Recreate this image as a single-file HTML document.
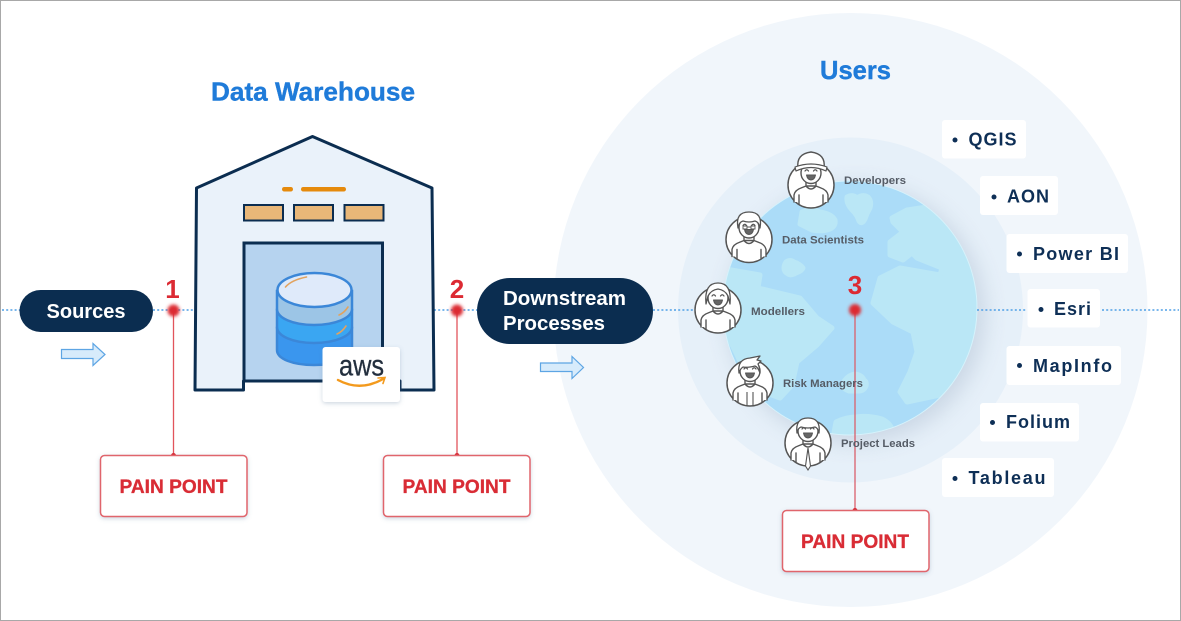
<!DOCTYPE html>
<html><head><meta charset="utf-8">
<style>
html,body{margin:0;padding:0;background:#fff;width:1181px;height:621px;overflow:hidden}
svg{display:block;filter:blur(.35px)}
text{font-family:"Liberation Sans",sans-serif}
</style></head>
<body>
<svg width="1181" height="621" viewBox="0 0 1181 621" xmlns="http://www.w3.org/2000/svg">
<defs>
<filter id="gs" x="-30%" y="-30%" width="160%" height="160%"><feGaussianBlur stdDeviation="11"/></filter>
<filter id="b1" x="-100%" y="-100%" width="300%" height="300%"><feGaussianBlur stdDeviation="1.6"/></filter>
<filter id="sh" x="-20%" y="-20%" width="140%" height="150%"><feDropShadow dx="0" dy="1.5" stdDeviation="2" flood-color="#5a7a9a" flood-opacity=".3"/></filter>
<clipPath id="gc"><circle cx="850" cy="308" r="127"/></clipPath>
<symbol id="p" viewBox="-25 -25 50 50" overflow="visible">
<circle cx="0" cy="0" r="23" fill="#fff" stroke="#555" stroke-width="1.500"/>
<g fill="none" stroke="#555" stroke-width="1.400" stroke-linecap="round" stroke-linejoin="round">
<path d="M-17 17v-7q1-5 7-7l5-2h10l5 2q6 2 7 7v7" fill="#fff"/>
<path d="M-5 1q5 6 10 0"/>
<path d="M-12 10v9M12 10v9"/>
<path d="M-5 0v-4M5 0v-4"/>
<ellipse cx="0" cy="-12" rx="10" ry="10.500" fill="#fff"/>
<path d="M-6-14q1.800-2.500 3.500 0M2.500-14q1.800-2.500 3.500 0" stroke-width="1.200"/>
<path d="M-4.500-10h9q-1 5-4.500 5t-4.500-5z" fill="#666" stroke-width="1"/>
</g>
</symbol>
</defs>

<rect width="1181" height="621" fill="#fff"/>
<circle cx="850.500" cy="310" r="297" fill="#f1f6fb"/>
<circle cx="850.500" cy="310" r="172.500" fill="#e6f0f9"/>
<circle cx="856" cy="314" r="129" fill="#a9b8cc" opacity=".45" filter="url(#gs)"/>

<circle cx="850" cy="308" r="127" fill="#abdcf8"/>
<g clip-path="url(#gc)" fill="#bae7f6" stroke="#bae7f6" stroke-width="5" stroke-linejoin="round">
<path d="M847 197q6-3 10 1q6-4 11-1q4 4 2 11q-3 5-5 11q-3 6-6 2q-2-6-6-10q-7-7-6-14z"/>
<path d="M892 218L907 210L927 207L950 210L980 255L985 308L970 370L940 395L907 402L900 392L910 372L917 352L913 332L893 322L873 303L880 278L900 268L940 275L942 268L917 258L912 253L903 260L890 255L890 242L903 232L893 222Z"/>
<path d="M720 268L760 275L758 288L800 298L817 318L832 328L817 345L797 362L792 385L780 398L753 388L720 320Z"/>
<path d="M786 262q4-3 8 0q6 2 9 6q-1 3-7 5q-5 3-8 1q-4-2-4-6q0-3 2-6z"/>
<path d="M802 212q10-4 18 0q12 2 15 8q1 6-5 9q-8 3-18 1l-12-6z"/>
<path d="M845 380q4-5 10-6q7 1 9 6q3 2 2 6q-2 5-7 5h-10q-6-2-6-6q0-3 2-5z"/>
<path d="M836 422q10-5 20-5q12-2 26 2q8 4 10 10l-10 14h-50z"/>
</g>
<circle cx="850" cy="308" r="127" fill="none" stroke="#d6f2fb" stroke-width="1"/>

<g stroke="#4f9fe6" stroke-width="1.500" stroke-dasharray="2 2.200" fill="none">
<path d="M2 310H20M153 310H194M434 310H477M653 310H695M977 310H1027M1102 310H1179"/>
</g>

<!-- warehouse -->
<path d="M196.500 188L312.500 136.500L432 188L434 390H400V381H243.500V390H195Z" fill="#eaf2fa" stroke="#0b2d50" stroke-width="3" stroke-linejoin="round"/>
<rect x="244" y="243" width="138.500" height="138" fill="#b6d3ef" stroke="#0b2d50" stroke-width="3"/>
<rect x="282" y="187" width="11" height="4.500" rx="2.200" fill="#e58a0c"/>
<rect x="301" y="187" width="45" height="4.500" rx="2.200" fill="#e58a0c"/>
<g fill="#e9b778" stroke="#0b2d50" stroke-width="2">
<rect x="244" y="205" width="39" height="15.500"/>
<rect x="294" y="205" width="39" height="15.500"/>
<rect x="344.500" y="205" width="39" height="15.500"/>
</g>
<!-- database -->
<g stroke="#3b87d8" stroke-width="2.500">
<path d="M277 328V350C277 359 293 365 314 365S352 359 352 350V328Z" fill="#3a96ee"/>
<path d="M277 310V327C277 336 293 343 314 343S352 336 352 327V310Z" fill="#3aa6f2"/>
<path d="M277 291V309C277 318 293 325 314 325S352 318 352 309V291Z" fill="#9cc5e6"/>
<ellipse cx="314.500" cy="290" rx="37" ry="17" fill="#dfeafa"/>
</g>
<g stroke="#e2a35f" stroke-width="1.600" fill="none" stroke-linecap="round">
<path d="M285.500 287q6-7 21-10M339 315q5-2 9-8M337 334q5-2 9-8"/>
</g>
<!-- aws -->
<rect x="322.500" y="347" width="77.500" height="55" rx="3" fill="#fff" filter="url(#sh)"/>
<text x="339" y="375.500" font-size="30" fill="#232f3e" stroke="#232f3e" stroke-width=".3" textLength="45" lengthAdjust="spacingAndGlyphs">aws</text>
<path d="M338 380q22 12 45-1" fill="none" stroke="#f39a1d" stroke-width="2.400" stroke-linecap="round"/>
<path d="M378 378l7-.5-2 6" fill="none" stroke="#f39a1d" stroke-width="1.600" stroke-linecap="round"/>

<!-- titles -->
<text x="211" y="100.500" font-size="26" font-weight="700" fill="#1f7bd9" stroke="#1f7bd9" stroke-width=".4" textLength="204" lengthAdjust="spacingAndGlyphs">Data Warehouse</text>
<text x="820" y="79" font-size="26" font-weight="700" fill="#1f7bd9" stroke="#1f7bd9" stroke-width=".4" textLength="71" lengthAdjust="spacingAndGlyphs">Users</text>

<!-- pills -->
<rect x="19.500" y="290" width="133.500" height="42" rx="21" fill="#0b2d50"/>
<text x="46.500" y="318" font-size="20" font-weight="700" fill="#fff" textLength="79" lengthAdjust="spacingAndGlyphs">Sources</text>
<rect x="477" y="278" width="176" height="66" rx="33" fill="#0b2d50"/>
<text x="503" y="305" font-size="20" font-weight="700" fill="#fff" textLength="123" lengthAdjust="spacingAndGlyphs">Downstream</text>
<text x="503" y="330" font-size="20" font-weight="700" fill="#fff" textLength="102" lengthAdjust="spacingAndGlyphs">Processes</text>

<!-- arrows -->
<path d="M61.500 349.500H93V343.500L105 354.500L93 365.500V358.500H61.500Z" fill="#d7ebfb" stroke="#5da5e4" stroke-width="1.200"/>
<path d="M540.500 363H572V356.500L583.500 367.500L572 378.500V371.500H540.500Z" fill="#d7ebfb" stroke="#5da5e4" stroke-width="1.200"/>

<!-- red connectors -->
<g stroke="#e2545c" stroke-width="1.300" fill="none">
<path d="M173.500 312V455M457 312V455"/>
<path d="M855 312V510" stroke="#d9606c"/>
</g>
<g fill="#dc2a33">
<circle cx="173.500" cy="310.500" r="6" filter="url(#b1)"/>
<circle cx="457" cy="310.500" r="6" filter="url(#b1)"/>
<circle cx="855" cy="310" r="6" filter="url(#b1)"/>
<circle cx="173.500" cy="455.500" r="2.500"/>
<circle cx="457" cy="455.500" r="2.500"/>
<circle cx="855" cy="510.500" r="2.500"/>
</g>
<g font-size="26" font-weight="700" fill="#dc2a33" text-anchor="middle">
<text x="172.500" y="298">1</text>
<text x="457" y="298">2</text>
<text x="855" y="294">3</text>
</g>

<!-- pain boxes -->
<g fill="#fff" stroke="#e0656c" stroke-width="1.500" filter="url(#sh)">
<rect x="100.500" y="455.500" width="146.500" height="61" rx="4"/>
<rect x="383.500" y="455.500" width="146.500" height="61" rx="4"/>
<rect x="782.500" y="510.500" width="146.500" height="61" rx="4"/>
</g>
<g font-size="19" font-weight="700" fill="#d92c35" stroke="#d92c35" stroke-width=".3">
<text x="119.500" y="493" textLength="108" lengthAdjust="spacingAndGlyphs">PAIN POINT</text>
<text x="402.500" y="493" textLength="108" lengthAdjust="spacingAndGlyphs">PAIN POINT</text>
<text x="801" y="548" textLength="108" lengthAdjust="spacingAndGlyphs">PAIN POINT</text>
</g>

<!-- people -->
<use href="#p" x="786" y="160" width="50" height="50"/>
<path d="M798 168q-2-14 13-16q15 2 13 16q-13-5-26 0z" fill="#fff" stroke="#555" stroke-width="1.400" stroke-linejoin="round"/>
<path d="M796 171q15-7 30 0l1-4q-16-6-32 0z" fill="#fff" stroke="#555" stroke-width="1.200" stroke-linejoin="round"/>

<use href="#p" x="724" y="214.500" width="50" height="50"/>
<path d="M738 228q-3-16 11-16q14 0 11 16q-1-6-5-7q-6 2-12 0q-4 1-5 7z" fill="#fff" stroke="#555" stroke-width="1.300" stroke-linejoin="round"/>
<path d="M743 226h4v3h-4zM751 226h4v3h-4zM747 227h4" fill="none" stroke="#555" stroke-width=".9"/>

<use href="#p" x="693" y="285" width="50" height="50"/>
<path d="M706 304q-2-21 12-21q14 0 12 21l-2-8q-3-6-10-7q-7 1-10 7z" fill="#fff" stroke="#555" stroke-width="1.300" stroke-linejoin="round"/>

<use href="#p" x="725" y="358" width="50" height="50"/>
<path d="M739 373q-2-14 11-15l10-2-3 4 4 1-3 3q2 4 2 9q-2-6-5-7q-8 2-12 1q-3 2-4 6z" fill="#fff" stroke="#555" stroke-width="1.300" stroke-linejoin="round"/>
<path d="M747 392v14M753 392v14" stroke="#555" stroke-width="1.100"/>

<use href="#p" x="783" y="418" width="50" height="50"/>
<path d="M797 433q-2-15 11-15q13 0 11 15q-1-5-4-6q-7 2-14 0q-3 1-4 6z" fill="#fff" stroke="#555" stroke-width="1.300" stroke-linejoin="round"/>
<path d="M808 448l-2.500 18 2.500 4 2.500-4z" fill="#fff" stroke="#555" stroke-width="1.100"/>

<g font-size="11" font-weight="700" fill="#555c66">
<text x="844" y="184" textLength="62" lengthAdjust="spacingAndGlyphs">Developers</text>
<text x="782" y="243.500" textLength="82" lengthAdjust="spacingAndGlyphs">Data Scientists</text>
<text x="751" y="315" textLength="54" lengthAdjust="spacingAndGlyphs">Modellers</text>
<text x="783" y="387" textLength="80" lengthAdjust="spacingAndGlyphs">Risk Managers</text>
<text x="841" y="447" textLength="74" lengthAdjust="spacingAndGlyphs">Project Leads</text>
</g>

<!-- chips -->
<g fill="#fff">
<rect x="942" y="120" width="84" height="38.500" rx="3"/>
<rect x="980" y="176" width="78" height="39" rx="3"/>
<rect x="1006.500" y="234" width="121.500" height="39" rx="3"/>
<rect x="1027.500" y="289" width="72.500" height="38.500" rx="3"/>
<rect x="1006.500" y="346" width="114.500" height="39" rx="3"/>
<rect x="980" y="403" width="99" height="38.500" rx="3"/>
<rect x="942" y="458" width="112" height="39" rx="3"/>
</g>
<g fill="#0e2f56">
<circle cx="955" cy="140" r="2.500"/>
<circle cx="994" cy="197" r="2.500"/>
<circle cx="1019.500" cy="254" r="2.500"/>
<circle cx="1041" cy="309.500" r="2.500"/>
<circle cx="1019.500" cy="365.500" r="2.500"/>
<circle cx="992.500" cy="422.500" r="2.500"/>
<circle cx="955" cy="478.500" r="2.500"/>
</g>
<g font-size="18" font-weight="700" fill="#0e2f56">
<text x="968.500" y="145.500" textLength="48" lengthAdjust="spacing">QGIS</text>
<text x="1007" y="202.500" textLength="42" lengthAdjust="spacing">AON</text>
<text x="1033" y="260" textLength="86" lengthAdjust="spacing">Power BI</text>
<text x="1054" y="315" textLength="37" lengthAdjust="spacing">Esri</text>
<text x="1033" y="372" textLength="79" lengthAdjust="spacing">MapInfo</text>
<text x="1006" y="428" textLength="64" lengthAdjust="spacing">Folium</text>
<text x="968.500" y="484" textLength="77" lengthAdjust="spacing">Tableau</text>
</g>

<rect x="0.500" y="0.500" width="1180" height="620" fill="none" stroke="#a8a8a8" stroke-width="1"/>
</svg>
</body></html>
